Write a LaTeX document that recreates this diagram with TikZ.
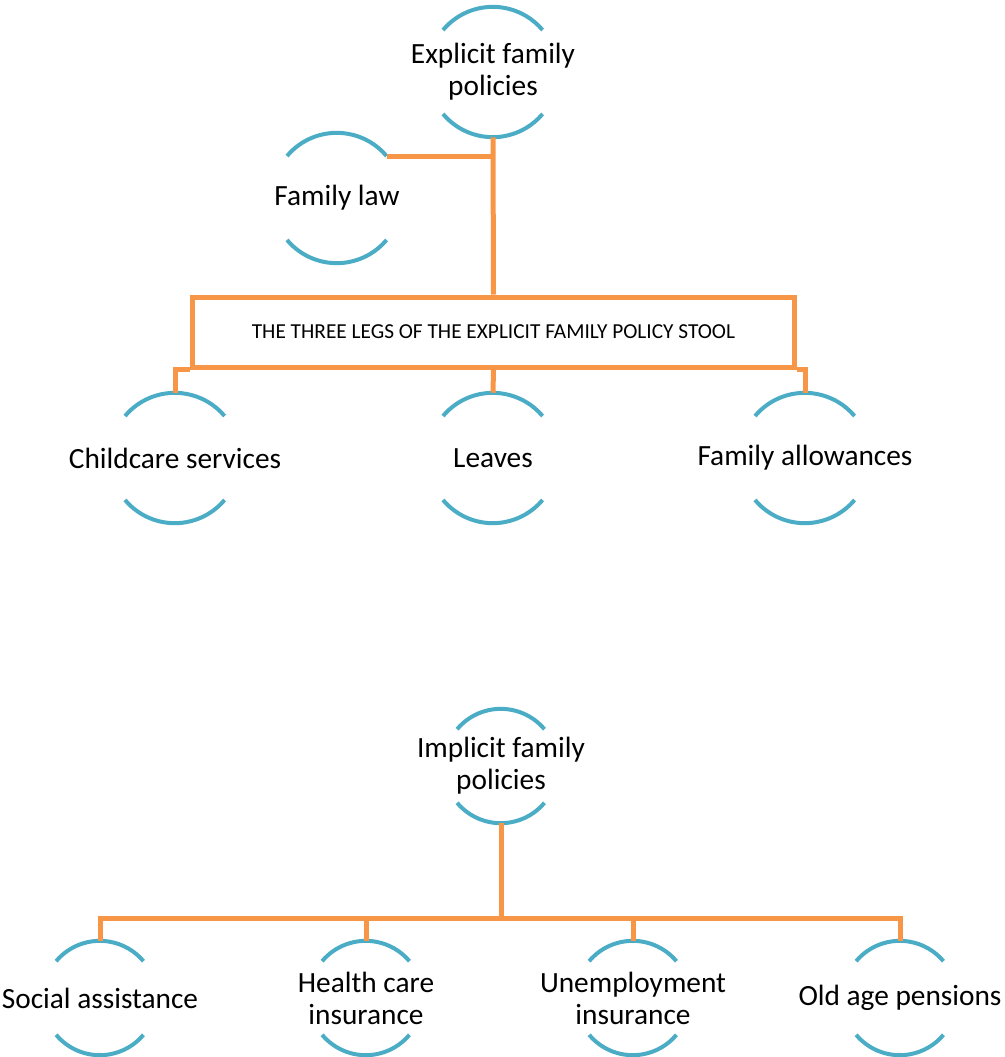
\documentclass[tikz,border=0pt]{standalone}
\usepackage{fontspec}
\setmainfont{Carlito}
\definecolor{ringblue}{HTML}{4BACC6}
\definecolor{linkorange}{HTML}{F79646}
\tikzset{
  px/.style={x=0.75pt,y=-0.75pt},
  ringarc/.style={draw=ringblue,line width=3pt},
  conn/.style={draw=linkorange,line width=3.75pt},
  lbl/.style={align=center,font=\fontsize{22}{24}\selectfont,inner sep=0pt},
  boxlbl/.style={font=\fontsize{16}{19}\selectfont}
}
% open ring: two arcs (top and bottom) around a centre, radius in px
\newcommand{\openring}[3]{%
  \node[circle,inner sep=0pt,minimum size=#3*1.5pt] (#1) at #2 {};
  \draw[ringarc] (#1.140) arc[start angle=140,end angle=40,radius=#3*0.75pt];
  \draw[ringarc] (#1.220) arc[start angle=220,end angle=320,radius=#3*0.75pt];
}
\begin{document}
\begin{tikzpicture}[px]
\useasboundingbox (0,0) rectangle (1004,1057);

% explicit family policies
\openring{exp}{(493,72)}{65}
\node[lbl] (explbl) at (exp.center) {Explicit family\\policies};
\openring{law}{(337,198)}{65}
\node[lbl] (lawlbl) at (law.center) {Family law};

\node[draw=linkorange,line width=3.75pt,minimum width=452pt,minimum height=52.5pt,
      inner sep=0pt,boxlbl] (box) at (493.5,332)
      {THE THREE LEGS OF THE EXPLICIT FAMILY POLICY STOOL};

\openring{child}{(175,458)}{65}
\node[lbl] (childlbl) at (child.center) {Childcare services};
\openring{leave}{(493,458)}{65}
\node[lbl] (leavelbl) at (leave.center) {Leaves};
\openring{allow}{(805,458)}{65}
\node[lbl] (allowlbl) at (allow.center) {Family allowances};

\draw[conn] (exp.south) -- (box.north);
\draw[conn] (law.40) -- (law.40 -| exp.south);
\draw[conn] (box.south west) -| (child.north);
\draw[conn] (box.south) -- (leave.north);
\draw[conn] (box.south east) -| (allow.north);

% implicit family policies
\openring{imp}{(501,766)}{57}
\node[lbl] (implbl) at (imp.center) {Implicit family\\policies};

\openring{soc}{(100,998)}{57}
\node[lbl] (soclbl) at (soc.center) {Social assistance};
\openring{hea}{(366,998)}{57}
\node[lbl] (healbl) at (hea.center) {Health care\\insurance};
\openring{une}{(633,998)}{57}
\node[lbl] (unelbl) at (une.center) {Unemployment\\insurance};
\openring{old}{(900,998)}{57}
\node[lbl] (oldlbl) at (old.center) {Old age pensions};

\coordinate (bus) at (501,918);
\draw[conn] (imp.south) -- (bus);
\draw[conn] (soc.north) |- (bus) -| (old.north);
\draw[conn] (hea.north) -- (hea.north |- bus);
\draw[conn] (une.north) -- (une.north |- bus);
\end{tikzpicture}
\end{document}
